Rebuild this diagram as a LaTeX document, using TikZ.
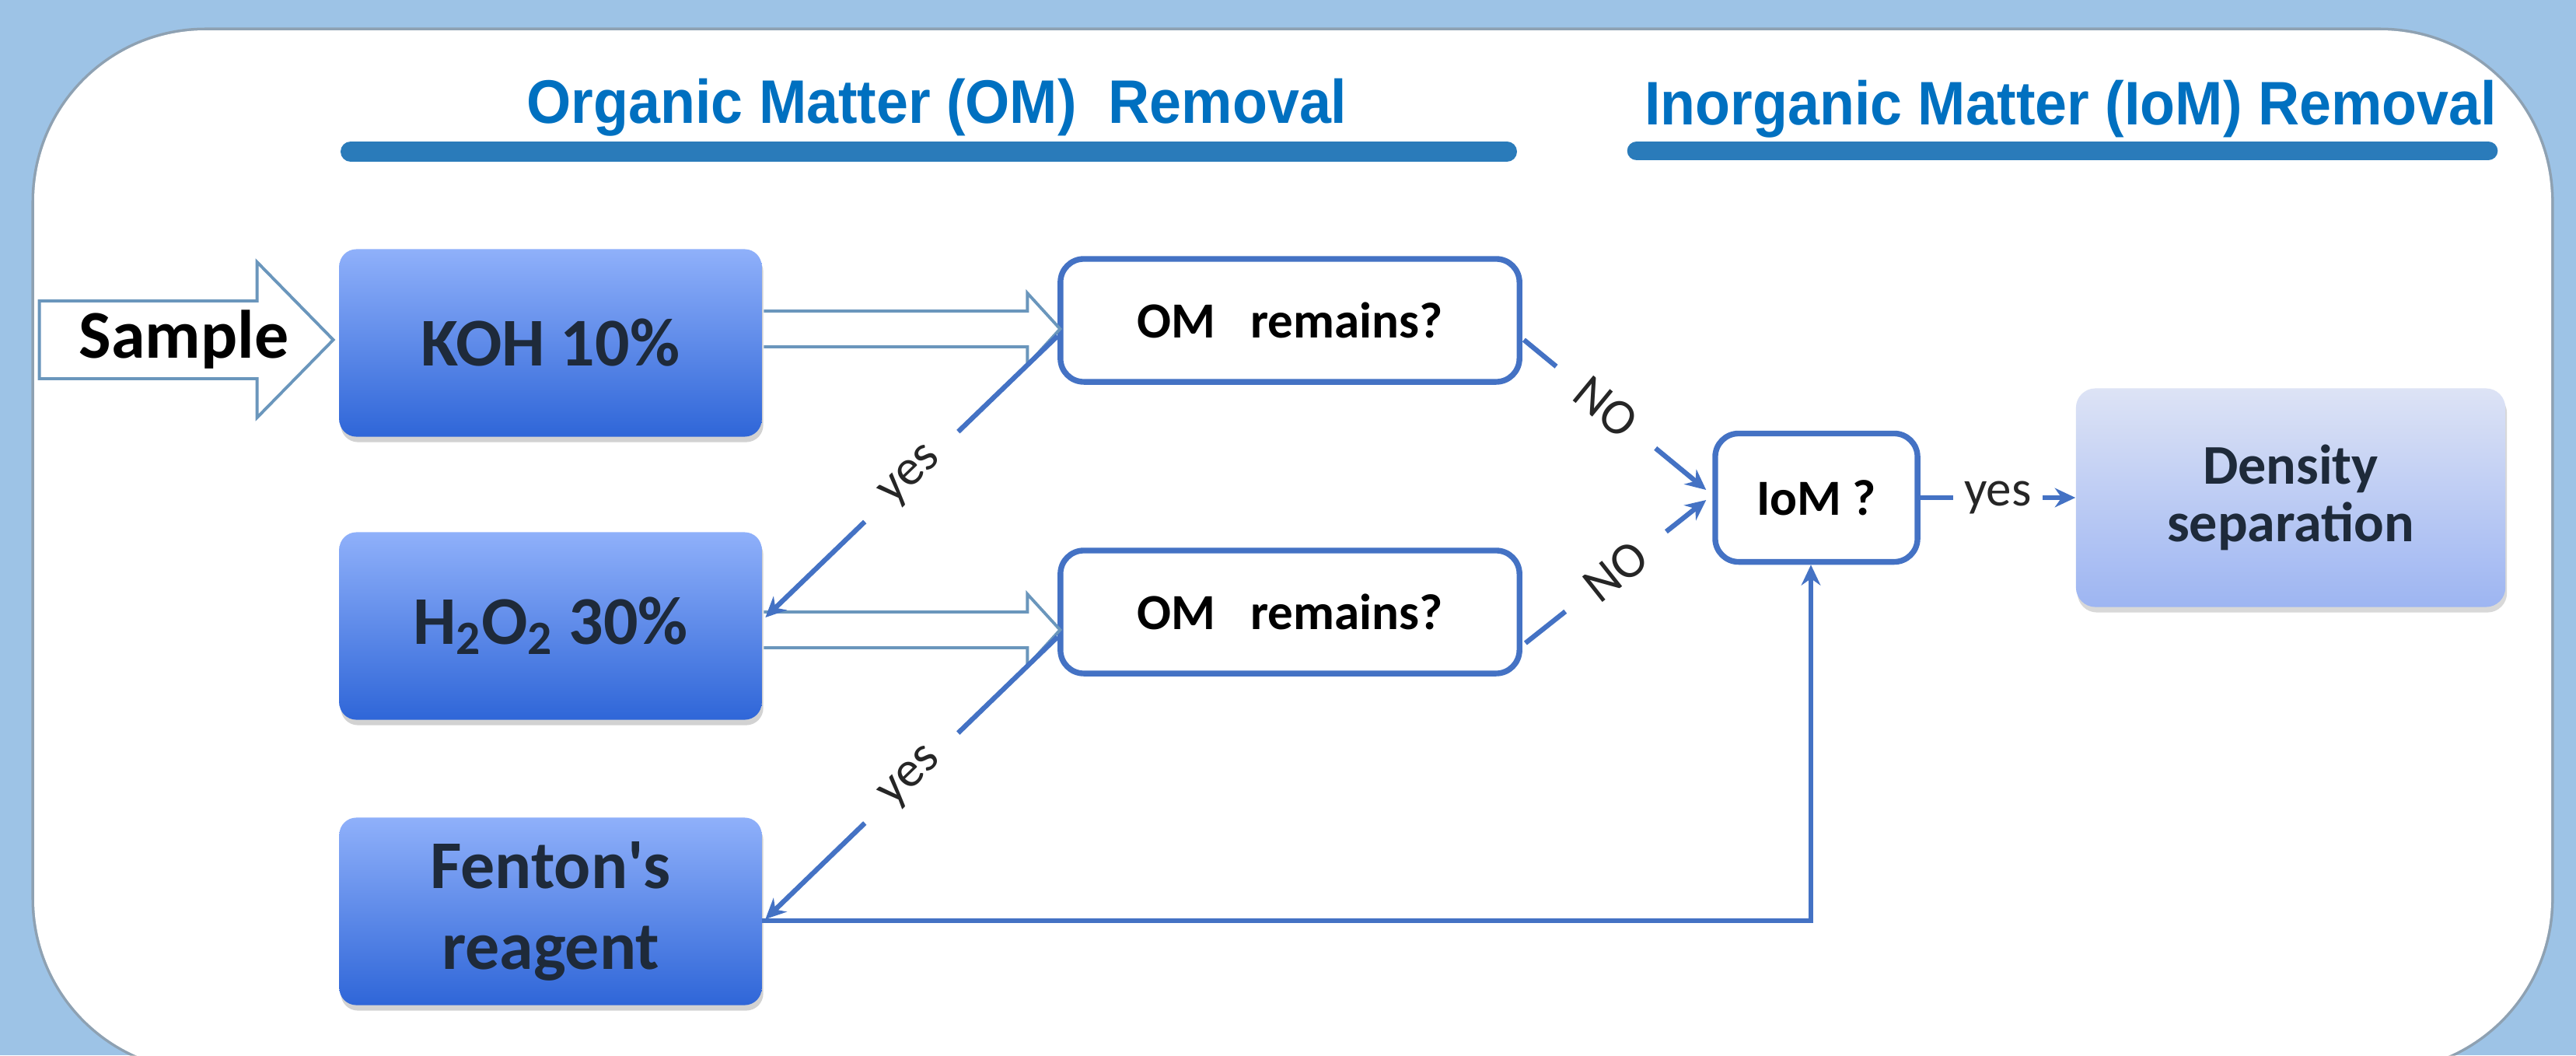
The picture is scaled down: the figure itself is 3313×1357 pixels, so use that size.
\documentclass[tikz,border=0pt]{standalone}
\usepackage{fontspec}
\setmainfont{Carlito}
\newfontfamily\titlefont{Liberation Sans}
\usepackage{tikz}
\usetikzlibrary{calc,arrows.meta,shadows}
\definecolor{bgblue}{HTML}{9DC3E6}
\definecolor{titleblue}{HTML}{0070C0}
\definecolor{barblue}{HTML}{2A7BBA}
\definecolor{boxtop}{HTML}{8FB0FA}
\definecolor{boxbot}{HTML}{2F66D8}
\definecolor{dentop}{HTML}{DDE3F5}
\definecolor{denbot}{HTML}{9DB5F2}
\definecolor{linkblue}{HTML}{4472C4}
\definecolor{steel}{HTML}{6A96BC}
\definecolor{ink}{HTML}{1E2A3A}

\tikzset{
  reagent/.style={rounded corners=0.22cm,minimum width=5.43cm,minimum height=2.41cm,
    top color=boxtop,bottom color=boxbot,text=ink,align=center,
    font=\fontsize{25}{29.6}\selectfont\bfseries,
    drop shadow={shadow xshift=0.02cm,shadow yshift=-0.07cm,opacity=0.35}},
  decision/.style={draw=linkblue,line width=2.1pt,fill=white,rounded corners=0.3cm,
    minimum height=1.58cm,text=black,font=\fontsize{18.5}{22}\selectfont\bfseries},
  density/.style={rounded corners=0.25cm,minimum width=5.52cm,minimum height=2.81cm,
    top color=dentop,bottom color=denbot,text=ink,align=center,
    font=\fontsize{20.5}{21}\selectfont\bfseries,
    drop shadow={shadow xshift=0.02cm,shadow yshift=-0.07cm,opacity=0.3}},
  hollow/.style={draw=steel,line width=1.1pt,fill=white},
  conn/.style={draw=linkblue,line width=1.8pt,-{Stealth[length=7.5pt,width=7pt]}},
  lbl/.style={fill=white,sloped,inner xsep=0.4cm,inner ysep=1pt,text=black!85,
    font=\fontsize{18.5}{18.5}\selectfont},
  heading/.style={anchor=base,text=titleblue,font=\titlefont\bfseries\fontsize{22.5}{22.5}\selectfont}
}

\begin{document}
\begin{tikzpicture}[x=0.01cm,y=-0.01cm]
\useasboundingbox (0,0) rectangle (3313,1357);
\fill[bgblue] (0,0) rectangle (3313,1357);
\begin{scope}
\clip (0,0) rectangle (3313,1357);
\draw[black!50,opacity=0.5,line width=2pt,rounded corners=2.2cm] (44,39) rectangle (3281,1376);
\fill[white,rounded corners=2.2cm] (44,39) rectangle (3281,1376);
\end{scope}

\node[heading] (omhead) at (1205,158) {\scalebox{0.93}[1]{Organic Matter (OM)\ \ Removal}};
\draw[barblue,line width=7.4pt,line cap=round] (451,195) -- (1938,195);
\node[heading] (iomhead) at (2663,160) {\scalebox{0.93}[1]{Inorganic Matter (IoM) Removal}};
\draw[barblue,line width=7pt,line cap=round] (2105,194) -- (3200,194);

\node[reagent] (koh) at (708,441) {KOH 10\%};
\node[reagent] (h2o) at (708,805) {H\textsubscript{2}O\textsubscript{2} 30\%};
\node[reagent] (fen) at (708,1172) {Fenton\textquotesingle s\\reagent};

\node[decision,minimum width=5.9cm] (om1) at (1659,412) {OM\hspace{0.45cm}remains?};
\node[decision,minimum width=5.9cm] (om2) at (1659,787) {OM\hspace{0.45cm}remains?};
\node[decision,minimum width=2.6cm,minimum height=1.65cm] (iom) at (2336,640) {IoM ?};
\node[density] (den) at (2946,640) {Density\\separation};

\draw[hollow] ($(koh.west)+(-7,-4)$) coordinate (smptip) -- ++(-98,-100) -- ++(0,50)
  -- ++(-280,0) -- ++(0,100) -- ++(280,0) -- ++(0,50) -- cycle;
\node[font=\fontsize{25}{25}\selectfont\bfseries,text=black] (smp) at ($(smptip)+(-192,0)$) {Sample};

\draw[hollow] ($(koh.east)+(2,-41)$) -- ++(339,0) -- ++(0,-23) -- ++(42,46)
  -- ++(-42,46) -- ++(0,-23) -- ++(-339,0);
\draw[hollow] ($(h2o.east)+(2,-18)$) -- ++(339,0) -- ++(0,-23) -- ++(42,46)
  -- ++(-42,46) -- ++(0,-23) -- ++(-339,0);

\draw[conn] ($(om1.west)+(0,20)$) -- node[lbl]{yes} ($(h2o.east)+(4,-11)$);
\draw[conn] ($(om2.west)+(0,32)$) -- node[lbl]{yes} ($(fen.east)+(4,10)$);
\draw[conn] ($(om1.east)+(2,25)$) -- node[lbl,pos=0.45]{NO} ($(iom.west)+(-8,-10)$);
\draw[conn] ($(om2.east)+(4,40)$) -- node[lbl]{NO} ($(iom.west)+(-8,3)$);
\draw[conn] ($(fen.east)+(0,12)$) -| ($(iom.south)+(-7,0)$);
\draw[conn] (iom.east) -- node[lbl,inner xsep=0.14cm]{yes} (den.west);
\end{tikzpicture}
\end{document}
